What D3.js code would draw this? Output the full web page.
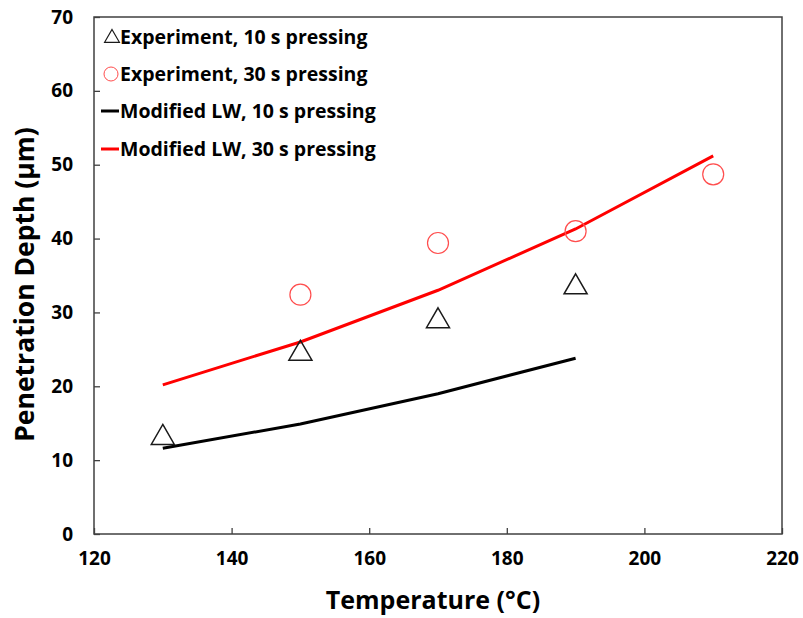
<!DOCTYPE html>
<html>
<head>
<meta charset="utf-8">
<script src="https://cdn.jsdelivr.net/npm/d3@7"></script>
<style>
  body { margin: 0; background: #fff; }
  text { font-family: "Open Sans", Lato, sans-serif; font-weight: bold; fill: #000; }
</style>
</head>
<body>
<div id="chart"></div>
<script>
// Data
let temps10 = [130, 150, 170, 190];
let exp10 = [13.3, 24.7, 29.1, 33.7];
let temps30 = [150, 170, 190, 210];
let exp30 = [32.4, 39.4, 41.0, 48.7];
let modelTemps10 = [130, 150, 170, 190];
let model10 = [11.6, 14.9, 19.0, 23.8];
let modelTemps30 = [130, 150, 170, 190, 210];
let model30 = [20.2, 26.0, 33.0, 41.3, 51.2];
let xTicks = [120, 140, 160, 180, 200, 220];
let yTicks = [0, 10, 20, 30, 40, 50, 60, 70];
let legendLabels = ['Experiment, 10 s pressing', 'Experiment, 30 s pressing',
    'Modified LW, 10 s pressing', 'Modified LW, 30 s pressing'];

let margin = { top: 17, right: 21, bottom: 84, left: 94 },
    width = 803 - margin.left - margin.right,
    height = 618 - margin.top - margin.bottom;

let x = d3.scaleLinear().domain([120, 220]).range([0, width]);
let y = d3.scaleLinear().domain([0, 70]).range([height, 0]);

let svg = d3.select('#chart')
    .append('svg')
    .attr('width', 803)
    .attr('height', 618)
    .append('g')
    .attr('transform', 'translate(' + margin.left + ',' + margin.top + ')');

// Axes with inward ticks
let xAxis = svg.append('g')
    .attr('transform', 'translate(0,' + height + ')')
    .call(d3.axisBottom(x).tickValues(xTicks).tickSizeInner(-6).tickSizeOuter(0).tickPadding(18));
let yAxis = svg.append('g')
    .call(d3.axisLeft(y).tickValues(yTicks).tickSizeInner(-6).tickSizeOuter(0).tickPadding(21));
[xAxis, yAxis].forEach(function (a) {
    a.select('.domain').remove();
    a.selectAll('line').attr('stroke', '#404040').attr('stroke-width', 1.3);
    a.selectAll('text').style('font-size', '19px');
});

// Plot frame
svg.append('rect')
    .attr('width', width)
    .attr('height', height)
    .attr('fill', 'none')
    .attr('stroke', '#404040')
    .attr('stroke-width', 1.5);

// Model lines
let line = d3.line()
    .x(function (d) { return x(d[0]); })
    .y(function (d) { return y(d[1]); });

svg.append('path')
    .datum(d3.zip(modelTemps10, model10))
    .attr('fill', 'none')
    .attr('stroke', '#000')
    .attr('stroke-width', 3)
    .attr('d', line);

svg.append('path')
    .datum(d3.zip(modelTemps30, model30))
    .attr('fill', 'none')
    .attr('stroke', '#ff0000')
    .attr('stroke-width', 3)
    .attr('d', line);

// Experiment markers
let tri = d3.symbol().type(d3.symbolTriangle).size(230);

svg.selectAll('.tri')
    .data(d3.zip(temps10, exp10))
    .enter()
    .append('path')
    .attr('class', 'tri')
    .attr('d', tri)
    .attr('transform', function (d) {
        return 'translate(' + x(d[0]) + ',' + (y(d[1]) + 2) + ')';
    })
    .attr('fill', 'none')
    .attr('stroke', '#1a1a1a')
    .attr('stroke-width', 1.5);

svg.selectAll('.circ')
    .data(d3.zip(temps30, exp30))
    .enter()
    .append('circle')
    .attr('class', 'circ')
    .attr('cx', function (d) { return x(d[0]); })
    .attr('cy', function (d) { return y(d[1]); })
    .attr('r', 10.5)
    .attr('fill', 'none')
    .attr('stroke', '#ff4d4d')
    .attr('stroke-width', 1.2);

// Legend
let legend = svg.append('g').attr('transform', 'translate(0,0)');
let rowY = [20, 57, 94, 132];
legendLabels.forEach(function (label, i) {
    let g = legend.append('g').attr('transform', 'translate(0,' + rowY[i] + ')');
    if (i === 0) {
        g.append('path')
            .attr('d', d3.symbol().type(d3.symbolTriangle).size(95))
            .attr('transform', 'translate(18,1)')
            .attr('fill', 'none').attr('stroke', '#1a1a1a').attr('stroke-width', 1.2);
    } else if (i === 1) {
        g.append('circle')
            .attr('cx', 17).attr('cy', 0).attr('r', 7)
            .attr('fill', 'none').attr('stroke', '#ff4d4d').attr('stroke-width', 1);
    } else {
        g.append('line')
            .attr('x1', 7).attr('x2', 25).attr('y1', 0).attr('y2', 0)
            .attr('stroke', i === 2 ? '#000' : '#ff0000').attr('stroke-width', 3);
    }
    g.append('text')
        .attr('x', 26)
        .attr('y', 0)
        .attr('dy', '0.35em')
        .style('font-size', '19.5px')
        .text(label);
});

// Axis titles
svg.append('text')
    .attr('x', width / 2 - 5)
    .attr('y', height + 75)
    .attr('text-anchor', 'middle')
    .style('font-size', '25px')
    .text('Temperature (°C)');

svg.append('text')
    .attr('transform', 'translate(' + (-60) + ',' + (height / 2 + 9) + ') rotate(-90)')
    .attr('text-anchor', 'middle')
    .style('font-size', '26.5px')
    .text('Penetration Depth (µm)');
</script>
</body>
</html>
